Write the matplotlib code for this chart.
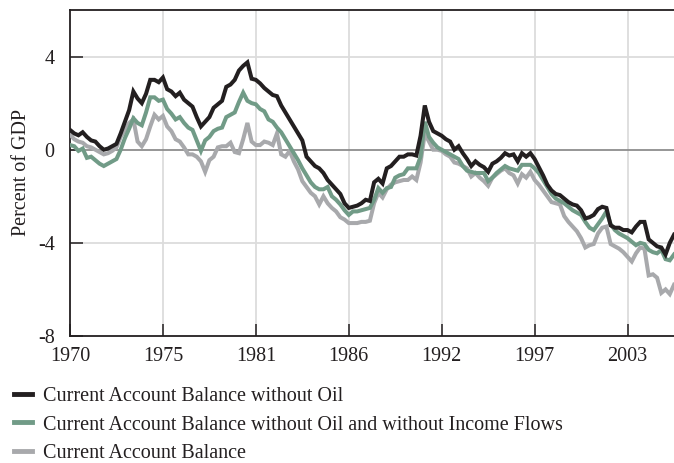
import numpy as np
import matplotlib
matplotlib.use("Agg")
import matplotlib.pyplot as plt
from matplotlib.lines import Line2D

plt.rcParams['font.family'] = ['Liberation Serif', 'DejaVu Serif']

# Quarterly observations, 1970Q1 .. 2005Q4
start_year = 1970
without_oil = [
    0.85, 0.7, 0.62, 0.75,
    0.55, 0.4, 0.35, 0.15,
    0.0, 0.05, 0.15, 0.25,
    0.7, 1.2, 1.7, 2.5,
    2.2, 2.0, 2.4, 3.0,
    3.0, 2.9, 3.1, 2.6,
    2.5, 2.3, 2.45, 2.15,
    2.0, 1.85, 1.4, 1.0,
    1.2, 1.4, 1.8, 1.95,
    2.1, 2.7, 2.8, 3.0,
    3.4, 3.6, 3.75, 3.05,
    3.0, 2.85, 2.65, 2.5,
    2.35, 2.3, 1.9, 1.6,
    1.3, 1.0, 0.7, 0.4,
    -0.3, -0.5, -0.7, -0.8,
    -1.0, -1.3, -1.5, -1.7,
    -1.9, -2.3, -2.5, -2.45,
    -2.4, -2.3, -2.15, -2.2,
    -1.4, -1.25, -1.45, -0.8,
    -0.7, -0.5, -0.3, -0.3,
    -0.2, -0.2, -0.25, 0.6,
    1.9, 1.2, 0.8, 0.7,
    0.6, 0.45, 0.35, 0.0,
    0.15, -0.15, -0.4, -0.7,
    -0.5, -0.65, -0.75, -0.95,
    -0.6, -0.5, -0.35, -0.15,
    -0.25, -0.2, -0.5, -0.15,
    -0.3, -0.15, -0.4, -0.75,
    -1.1, -1.5, -1.75, -1.9,
    -1.95, -2.1, -2.25, -2.35,
    -2.4, -2.6, -2.95, -2.9,
    -2.8, -2.55, -2.45, -2.5,
    -3.25, -3.35, -3.35, -3.45,
    -3.45, -3.55, -3.3, -3.1,
    -3.1, -3.85, -4.0, -4.15,
    -4.2, -4.5, -4.0, -3.65,
]
without_oil_income = [
    0.2, 0.15, -0.05, 0.05,
    -0.35, -0.3, -0.45, -0.6,
    -0.7, -0.6, -0.5, -0.4,
    0.0, 0.5, 0.9, 1.35,
    1.15, 1.05, 1.6, 2.25,
    2.25, 2.1, 2.15, 1.75,
    1.55, 1.3, 1.4, 1.15,
    0.95, 0.85, 0.4, -0.05,
    0.4, 0.55, 0.8, 0.9,
    0.95, 1.4, 1.5, 1.6,
    2.05, 2.45, 2.1, 2.0,
    1.95, 1.75, 1.65, 1.3,
    1.2, 0.95, 0.75, 0.45,
    0.15, -0.15, -0.45, -0.8,
    -1.1, -1.4, -1.6, -1.7,
    -1.7, -1.6, -2.0, -2.15,
    -2.35, -2.6, -2.8, -2.65,
    -2.65, -2.6, -2.55, -2.5,
    -2.15, -1.65, -1.85, -1.65,
    -1.6, -1.2, -1.1, -1.05,
    -0.8, -0.8, -0.8, -0.3,
    1.2, 0.55, 0.3, 0.1,
    0.0, -0.1, -0.2, -0.3,
    -0.4, -0.7, -0.9, -0.95,
    -1.0, -1.0, -1.0, -1.35,
    -1.2, -1.0, -0.85, -0.7,
    -0.8, -0.85, -0.9, -0.65,
    -0.65, -0.65, -0.8, -1.0,
    -1.3, -1.6, -1.9, -2.1,
    -2.2, -2.3, -2.45, -2.6,
    -2.7, -2.8, -3.1, -3.35,
    -3.45, -3.2, -2.95, -2.65,
    -3.2, -3.45, -3.6, -3.7,
    -3.8, -3.95, -4.1, -4.0,
    -4.05, -4.3, -4.4, -4.45,
    -4.3, -4.7, -4.75, -4.5,
]
current_account = [
    0.65, 0.45, 0.35, 0.3,
    0.15, 0.1, 0.0, -0.1,
    -0.2, -0.15, -0.05, 0.1,
    0.55, 0.85, 1.15, 1.3,
    0.35, 0.15, 0.45, 1.0,
    1.5, 1.3, 1.45, 1.0,
    0.8, 0.45, 0.35, 0.1,
    -0.2, -0.2, -0.3, -0.5,
    -0.95, -0.45, -0.3, 0.1,
    0.15, 0.15, 0.3, -0.1,
    -0.15, 0.45, 1.15, 0.35,
    0.2, 0.2, 0.35, 0.3,
    0.2, 0.7, -0.2, -0.3,
    -0.05, -0.5, -0.85, -1.35,
    -1.6, -1.85, -2.0, -2.35,
    -2.0, -2.3, -2.5, -2.65,
    -2.9, -3.0, -3.15, -3.15,
    -3.15, -3.1, -3.1, -3.05,
    -2.3, -1.85, -2.05, -1.7,
    -1.5, -1.4, -1.35, -1.3,
    -1.3, -1.15, -1.3, -0.55,
    0.7, 0.35, 0.0, 0.0,
    -0.05, -0.2, -0.3, -0.55,
    -0.6, -0.7, -0.8, -1.15,
    -1.0, -1.2, -1.35, -1.55,
    -1.2, -1.05, -0.9, -0.8,
    -1.0, -1.1, -1.45, -1.05,
    -1.2, -0.95, -1.3, -1.5,
    -1.75, -2.0, -2.25, -2.3,
    -2.35, -2.85, -3.1, -3.3,
    -3.5, -3.8, -4.2, -4.1,
    -4.05, -3.6, -3.35, -3.3,
    -4.05, -4.15, -4.25, -4.4,
    -4.6, -4.8, -4.45, -4.2,
    -4.25, -5.4, -5.35, -5.5,
    -6.15, -6.0, -6.2, -5.8,
]
series_labels = [
    "Current Account Balance without Oil",
    "Current Account Balance without Oil and without Income Flows",
    "Current Account Balance",
]
tick_years = [1970, 1975.5, 1981, 1986.5, 1992, 1997.5, 2003]
tick_labels = ["1970", "1975", "1981", "1986", "1992", "1997", "2003"]
y_ticks = [-8, -4, 0, 4]
y_tick_labels = ["-8", "-4", "0", "4"]

c_black = "#231f20"
c_green = "#719b87"
c_gray = "#a8a9ac"

t = start_year + np.arange(len(without_oil)) / 4.0

fig = plt.figure(figsize=(6.74, 4.63), dpi=100)
ax = fig.add_axes([70 / 674, 127 / 463, 604 / 674, 326 / 463])

ax.set_xlim(t[0], t[-1])
ax.set_ylim(-8, 6)

for xv in tick_years[1:]:
    ax.axvline(xv, color="#dcdcdc", lw=1.3, zorder=0)
for yv in [4, -4]:
    ax.axhline(yv, color="#dcdcdc", lw=1.3, zorder=0)
ax.axhline(0, color="#8e8e8e", lw=1.3, zorder=1)

ax.plot(t, current_account, color=c_gray, lw=2.9, zorder=3, solid_joinstyle="miter")
ax.plot(t, without_oil_income, color=c_green, lw=2.9, zorder=4, solid_joinstyle="miter")
ax.plot(t, without_oil, color=c_black, lw=2.9, zorder=5, solid_joinstyle="miter")

ax.set_xticks(tick_years)
ax.set_xticklabels(tick_labels)
ax.set_yticks(y_ticks)
ax.set_yticklabels(y_tick_labels)
ax.tick_params(axis="both", direction="in", length=9, width=1.1, color=c_black,
               labelsize=14.5, labelcolor=c_black)
ax.tick_params(axis="x", pad=8)
ax.tick_params(axis="y", pad=11)

for side in ["left", "bottom", "top"]:
    ax.spines[side].set_color(c_black)
    ax.spines[side].set_linewidth(1.3)
ax.spines["right"].set_visible(False)

ax.set_ylabel("Percent of GDP", fontsize=14.5, color=c_black, labelpad=5)

handles = [Line2D([], [], color=c, lw=3.5) for c in (c_black, c_green, c_gray)]
fig.legend(handles, series_labels, loc="upper left", bbox_to_anchor=(0.0, 0.194),
           frameon=False, fontsize=14.5, handlelength=0.9, handletextpad=0.55,
           labelspacing=0.45, borderaxespad=0.3, labelcolor=c_black)

fig.savefig("out.png", dpi=100)
